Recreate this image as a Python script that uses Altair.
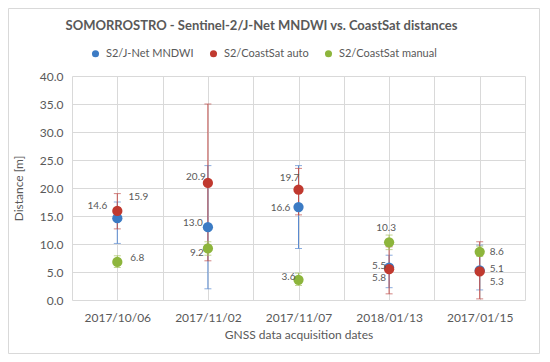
import json
import altair as alt
import pandas as pd

dates = ["2017/10/06", "2017/11/02", "2017/11/07", "2018/01/13", "2017/01/15"]
series_names = ["S2/J-Net MNDWI", "S2/CoastSat auto", "S2/CoastSat manual"]

mndwi = [14.6, 13.0, 16.6, 5.8, 5.3]
mndwi_lo = [10.1, 2.0, 9.2, 2.2, 1.8]
mndwi_hi = [17.5, 24.0, 24.0, 8.0, 9.8]

auto = [15.9, 20.9, 19.7, 5.5, 5.1]
auto_lo = [12.7, 7.0, 15.2, 1.1, 0.2]
auto_hi = [19.0, 35.0, 23.5, 9.5, 10.4]

manual = [6.8, 9.2, 3.6, 10.3, 8.6]
manual_lo = [5.8, 8.0, 2.6, 9.0, 7.8]
manual_hi = [7.9, 10.4, 4.8, 11.6, 9.6]

# label offsets (pixels) per series and date
mndwi_dx = [-20, -15, -18, -10, 17]
mndwi_dy = [-12, -4, 1, 10, 12]
auto_dx = [21, -12, -9, -10, 17]
auto_dy = [-14, -6, -12, -3, -2]
manual_dx = [20, -11, -10, -3, 17]
manual_dy = [-4, 5, -3, -14, 0]

colors = ["#3C7BC4", "#C0392F", "#8DB53C"]
bar_colors = ["#5A8AD0", "#C0504D", "#A5C261"]

rows = []
for s, vals, lo, hi, dxs, dys in [
    (series_names[0], mndwi, mndwi_lo, mndwi_hi, mndwi_dx, mndwi_dy),
    (series_names[1], auto, auto_lo, auto_hi, auto_dx, auto_dy),
    (series_names[2], manual, manual_lo, manual_hi, manual_dx, manual_dy),
]:
    for i, d in enumerate(dates):
        rows.append(dict(series=s, idx=i, date=d, value=vals[i], lo=lo[i], hi=hi[i],
                         dx=dxs[i], dy=dys[i], label=f"{vals[i]:.1f}"))
df = pd.DataFrame(rows)

FONT = "Lato"
GRAY = "#595959"

label_expr = f"datum.value % 1 === 0 ? {json.dumps(dates)}[datum.value] : ''"
x_scale = alt.Scale(domain=[-0.5, 4.5], nice=False, zero=False)
x_axis = alt.Axis(values=[-0.5, 0, 0.5, 1, 1.5, 2, 2.5, 3, 3.5, 4, 4.5],
                  labelExpr=label_expr, title="GNSS data acquisition dates",
                  ticks=False, domain=False, labelPadding=12, titlePadding=6,
                  gridColor="#D9D9D9", labelOverlap=False)
x_enc = alt.X("idx:Q", scale=x_scale, axis=x_axis)
y_scale = alt.Scale(domain=[0, 40], nice=False)
y_axis = alt.Axis(values=list(range(0, 41, 5)), format=".1f", title="Distance [m]",
                  ticks=False, domain=False, labelPadding=9, titlePadding=14,
                  gridColor="#D9D9D9", labelOverlap=False)
y_enc = alt.Y("value:Q", scale=y_scale, axis=y_axis)

color_scale = alt.Scale(domain=series_names, range=colors)

base = alt.Chart(df)

# border around the whole chart
border = alt.Chart(pd.DataFrame({"a": [0]})).mark_rect(
    fill=None, stroke="#D9D9D9", strokeWidth=1
).encode(x=alt.value(-63.5), x2=alt.value(467.5), y=alt.value(-67.5), y2=alt.value(277.5))

points = base.mark_point(filled=True, size=105, opacity=1).encode(
    x=x_enc, y=y_enc,
    color=alt.Color("series:N", scale=color_scale, sort=series_names,
                    legend=alt.Legend(title=None, orient="none", direction="horizontal",
                                      legendX=18, legendY=-28, symbolType="circle",
                                      symbolSize=50, labelFont=FONT, labelFontSize=11,
                                      labelColor=GRAY, columnPadding=14, labelOffset=5)))

err_layers = []
for k, s in enumerate(series_names):
    sub = base.transform_filter(alt.datum.series == s)
    rule = sub.mark_rule(strokeWidth=1, color=bar_colors[k]).encode(
        x=x_enc, y=alt.Y("lo:Q", scale=y_scale, axis=y_axis), y2="hi:Q")
    cap_lo = sub.mark_tick(size=7, thickness=1, orient="horizontal", color=bar_colors[k]).encode(
        x=x_enc, y=alt.Y("lo:Q", scale=y_scale, axis=y_axis))
    cap_hi = sub.mark_tick(size=7, thickness=1, orient="horizontal", color=bar_colors[k]).encode(
        x=x_enc, y=alt.Y("hi:Q", scale=y_scale, axis=y_axis))
    err_layers += [rule, cap_lo, cap_hi]

text_layers = []
for s in series_names:
    for i in range(len(dates)):
        r = df[(df.series == s) & (df.idx == i)].iloc[0]
        t = alt.Chart(df).transform_filter(
            (alt.datum.series == s) & (alt.datum.idx == i)
        ).mark_text(font=FONT, fontSize=10, color=GRAY, dx=int(r.dx), dy=int(r.dy)).encode(
            x=x_enc, y=y_enc, text="label:N")
        text_layers.append(t)

chart = alt.layer(border, *err_layers, points, *text_layers).properties(
    width=453, height=224,
    autosize=alt.AutoSizeParams(type="none"),
    padding={"left": 64, "top": 68, "right": 17, "bottom": 54},
    title=alt.TitleParams("SOMORROSTRO - Sentinel-2/J-Net MNDWI vs. CoastSat distances",
                          font=FONT, fontSize=13, fontWeight="bold", color=GRAY,
                          anchor="middle", offset=-25, dx=-37),
).configure_axis(
    labelFont=FONT, labelFontSize=12, labelColor=GRAY,
    titleFont=FONT, titleFontSize=12, titleColor=GRAY, titleFontWeight="normal",
).configure_view(stroke=None)

chart.save("out.html", embed_options={"renderer": "svg", "actions": False})
